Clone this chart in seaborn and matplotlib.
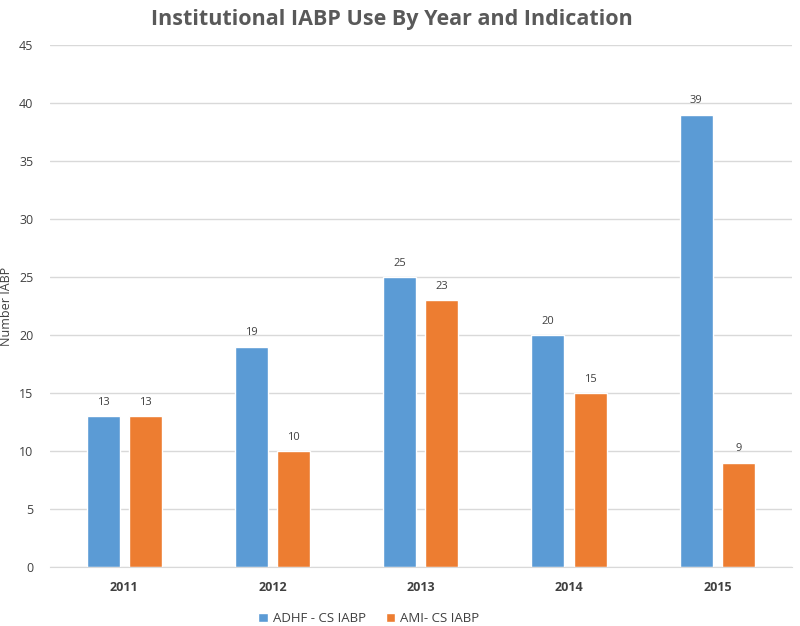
import matplotlib
matplotlib.use("Agg")
import matplotlib.pyplot as plt
import seaborn as sns
import pandas as pd

years = ["2011", "2012", "2013", "2014", "2015"]
adhf = [13, 19, 25, 20, 39]
ami = [13, 10, 23, 15, 9]
series = ["ADHF - CS IABP", "AMI- CS IABP"]
colors = ["#5B9BD5", "#ED7D31"]

df = pd.DataFrame({
    "year": years * 2,
    "value": adhf + ami,
    "series": [series[0]] * len(years) + [series[1]] * len(years),
})

sns.set_style("white")
plt.rcParams["font.family"] = ["Open Sans", "DejaVu Sans"]

fig = plt.figure(figsize=(8, 6.26), dpi=100)
ax = fig.add_axes([0.0625, 0.094, 0.927, 0.834])

sns.barplot(data=df, x="year", y="value", hue="series", palette=colors,
            width=0.57, gap=0.22, ax=ax, saturation=1, legend=True)

for cont in ax.containers:
    ax.bar_label(cont, padding=6, fontsize=8, color="#404040")

ax.set_ylim(0, 45)
ax.set_yticks(range(0, 46, 5))
ax.yaxis.grid(True, color="#D9D9D9", linewidth=1)
ax.set_axisbelow(True)
for s in ["top", "right", "left"]:
    ax.spines[s].set_visible(False)
ax.spines["bottom"].set_color("#D9D9D9")
ax.tick_params(axis="both", length=0, colors="#404040", labelsize=9)
for lab in ax.get_xticklabels():
    lab.set_fontweight("bold")
ax.tick_params(axis="x", pad=10)
ax.tick_params(axis="y", pad=12)
ax.set_xlabel("")
ax.set_ylabel("Number IABP", fontsize=9, color="#404040", labelpad=4)

ax.legend(loc="center", bbox_to_anchor=(0.43, -0.098), ncol=2, frameon=False,
          fontsize=9.5, handlelength=0.7, handleheight=0.7, columnspacing=1.5,
          handletextpad=0.4, labelcolor="#404040")

fig.suptitle("Institutional IABP Use By Year and Indication", x=0.49, y=0.985,
             fontsize=15.5, fontweight="bold", color="#595959")

fig.savefig("out.png", dpi=100)
